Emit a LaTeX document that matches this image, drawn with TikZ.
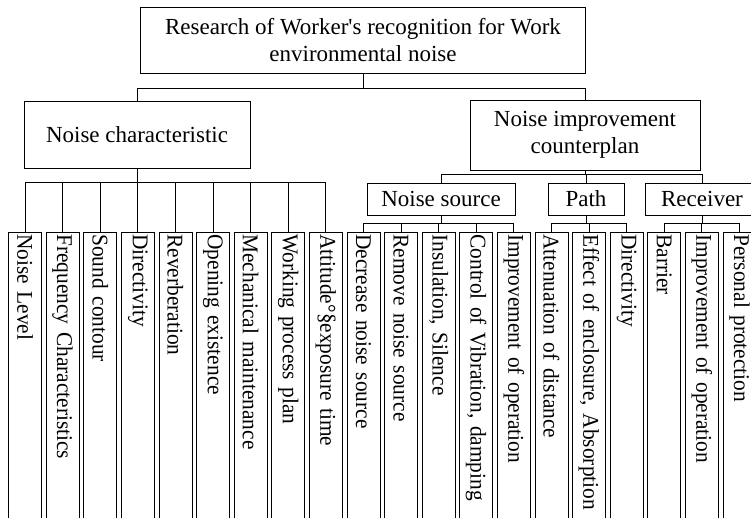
\documentclass[tikz,border=0pt]{standalone}
\usepackage{fontspec}
\setmainfont{Liberation Serif}
\newfontfamily\leaffont{Liberation Serif}[WordSpace=0.6, FakeStretch=0.95]
\begin{document}
\begin{tikzpicture}[x=1pt, y=-1pt, line width=0.8pt,
    box/.style={draw, align=center, inner sep=2pt, font=\fontsize{23}{27}\selectfont},
    leaf/.style={draw, rotate=-90, anchor=west, minimum height=33pt, text width=300pt,
        align=left, inner xsep=2pt, font=\leaffont\fontsize{22.5}{27}\selectfont}]

    \useasboundingbox (0,0) rectangle (751,518);
    \clip (0,0) rectangle (751,518);

    % Top box
    \node[box, minimum width=445pt, minimum height=66pt] (top) at (363,40)
        {Research of Worker\textquotesingle s recognition for Work\\environmental noise};

    % Second level
    \node[box, minimum width=226pt, minimum height=67pt] (char) at (137,134.5) {Noise characteristic};
    \node[box, minimum width=230pt, minimum height=70pt] (impr) at (585,135) {Noise improvement\\counterplan};

    % Third level
    \node[box, minimum width=148pt, minimum height=32pt] (src) at (441,199) {Noise source};
    \node[box, minimum width=76pt, minimum height=32pt] (path) at (586,199) {Path};
    \node[box, minimum width=114pt, minimum height=32pt] (recv) at (702,199) {Receiver};

    % Leaves
    \foreach \txt [count=\i] in {Noise Level, Frequency Characteristics, Sound contour,
        Directivity, Reverberation, Opening existence, Mechanical maintenance,
        Working process plan, Attitude°§exposure time, Decrease noise source,
        Remove noise source, {Insulation, Silence}, {Control of Vibration, damping},
        Improvement of operation, Attenuation of distance,
        {Effect of enclosure, Absorption}, Directivity, Barrier,
        Improvement of operation, Personal protection}
        \node[leaf] (leaf\i) at ({25+37.6*(\i-1)},232) {\txt};

    % Bus levels
    \coordinate (b1) at (0,88);
    \coordinate (b2) at (0,182);
    \coordinate (b3) at (0,174);
    \coordinate (b4) at (0,223);

    % Top connectors
    \draw (top.south) -- (top.south |- b1);
    \draw (char.north) |- (impr.north |- b1) -- (impr.north);
    \draw (impr.south) -- (impr.south |- b3);
    \draw (src.north) |- (recv.north |- b3) -- (recv.north);
    \draw (path.north) -- (path.north |- b3);

    % Leaf connectors
    \foreach \p/\a/\b/\y in {char/1/9/b2, src/10/14/b4, path/15/17/b4, recv/18/20/b4} {
        \draw (\p.south) -- (\p.south |- \y);
        \draw (leaf\a.west) |- (leaf\b.west |- \y) -- (leaf\b.west);
        \foreach \i in {\a,...,\b}
            \draw (leaf\i.west) -- (leaf\i.west |- \y);
    }

\end{tikzpicture}
\end{document}
